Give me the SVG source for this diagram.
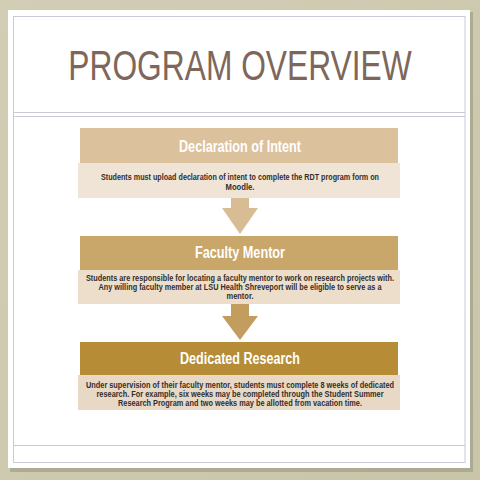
<svg xmlns="http://www.w3.org/2000/svg" width="480" height="480" viewBox="0 0 480 480">
<defs>
<style>
.frame{fill:none;stroke:#c9cad6;stroke-width:1}
.title{font-family:"Liberation Sans",Arial,sans-serif;font-size:42px;fill:#7e675a;text-anchor:middle}
.hdr{font-family:"Liberation Sans",Arial,sans-serif;font-weight:bold;font-size:16px;fill:#ffffff;text-anchor:middle}
.body{font-family:"Liberation Sans",Arial,sans-serif;font-weight:bold;font-size:9px;fill:#332e2a;text-anchor:middle}
</style>
<linearGradient id="bg" x1="0" y1="0" x2="1" y2="1">
<stop offset="0" stop-color="#d2ceb6"/>
<stop offset="1" stop-color="#c9c5a9"/>
</linearGradient>
</defs>
<rect x="0" y="0" width="480" height="480" fill="url(#bg)"/>
<rect x="10" y="12" width="463" height="460" fill="#9a9784" opacity="0.6"/>
<rect x="8" y="10" width="462" height="458" fill="#ffffff"/>
<rect x="13.5" y="16.5" width="451.5" height="446" class="frame"/>
<line x1="13.5" y1="112.5" x2="465" y2="112.5" class="frame"/>
<line x1="13.5" y1="116.5" x2="465" y2="116.5" class="frame"/>
<line x1="13.5" y1="445.5" x2="465" y2="445.5" class="frame"/>
<text x="0" y="0" class="title" transform="translate(240,80) scale(0.756,1)">PROGRAM OVERVIEW</text>
<g id="connectors">
<polygon points="231,197 249,197 249,208 258,208 240,234 222,208 231,208" fill="#d8bc94"/>
<polygon points="231,304 249,304 249,316 258,316 240,340 222,316 231,316" fill="#c29d5e"/>
</g>
<g id="node-declaration">
<rect x="78" y="163" width="322" height="35" fill="#efe4d5"/>
<rect x="80" y="128" width="318" height="35" fill="#dcc19d"/>
<text x="240" y="152" class="hdr" textLength="122" lengthAdjust="spacingAndGlyphs">Declaration of Intent</text>
<text x="240" y="180" class="body" textLength="278" lengthAdjust="spacingAndGlyphs">Students must upload declaration of intent to complete the RDT program form on</text>
<text x="240" y="190" class="body" textLength="29" lengthAdjust="spacingAndGlyphs">Moodle.</text>
</g>
<g id="node-mentor">
<rect x="78" y="270" width="322" height="34" fill="#ecdecb"/>
<rect x="80" y="236" width="318" height="34" fill="#c9a66a"/>
<text x="240" y="258" class="hdr" textLength="90" lengthAdjust="spacingAndGlyphs">Faculty Mentor</text>
<text x="240" y="281" class="body" textLength="308" lengthAdjust="spacingAndGlyphs">Students are responsible for locating a faculty mentor to work on research projects with.</text>
<text x="240" y="290" class="body" textLength="283" lengthAdjust="spacingAndGlyphs">Any willing faculty member at LSU Health Shreveport will be eligible to serve as a</text>
<text x="240" y="299" class="body" textLength="27" lengthAdjust="spacingAndGlyphs">mentor.</text>
</g>
<g id="node-research">
<rect x="78" y="375" width="322" height="35" fill="#e8d9c6"/>
<rect x="80" y="342" width="318" height="33" fill="#b68c37"/>
<text x="240" y="364" class="hdr" textLength="120" lengthAdjust="spacingAndGlyphs">Dedicated Research</text>
<text x="240" y="388" class="body" textLength="308" lengthAdjust="spacingAndGlyphs">Under supervision of their faculty mentor, students must complete 8 weeks of dedicated</text>
<text x="240" y="397" class="body" textLength="287" lengthAdjust="spacingAndGlyphs">research. For example, six weeks may be completed through the Student Summer</text>
<text x="240" y="406" class="body" textLength="244" lengthAdjust="spacingAndGlyphs">Research Program and two weeks may be allotted from vacation time.</text>
</g>
</svg>
